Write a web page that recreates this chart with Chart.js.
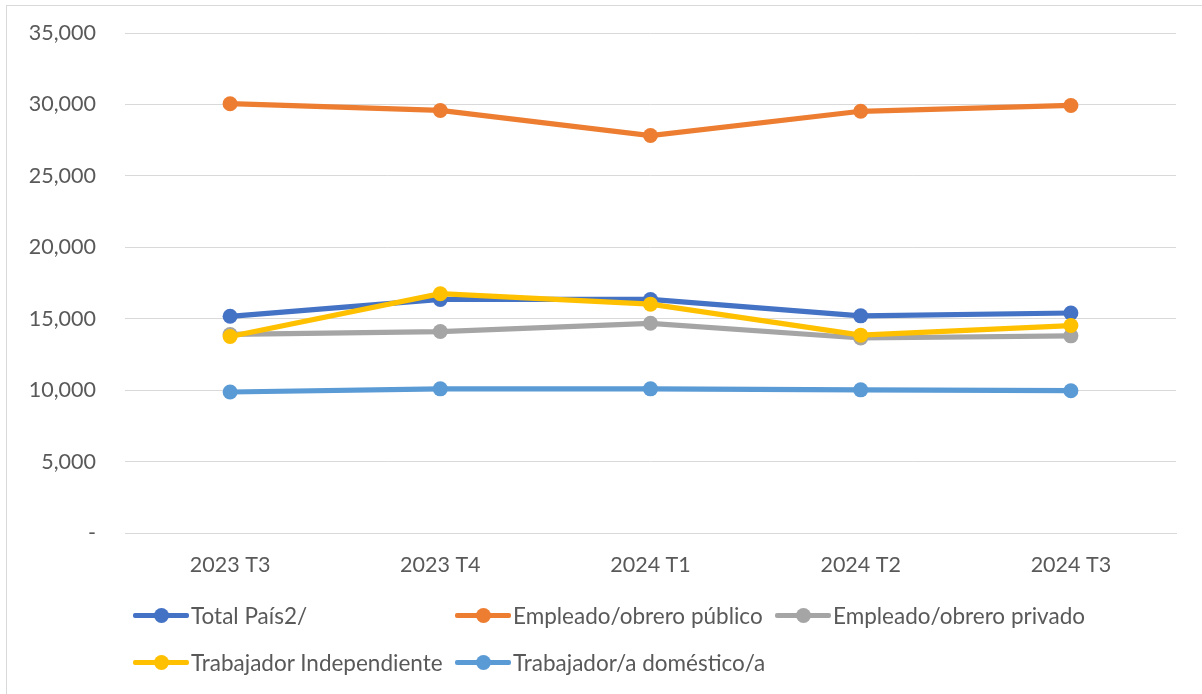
<!DOCTYPE html>
<html lang="es">
<head>
  <meta charset="UTF-8">
  <title>Ingreso promedio por categoría ocupacional</title>
  <script src="https://cdn.jsdelivr.net/npm/chart.js"></script>
  <style>
    html, body { margin: 0; padding: 0; background: #fff; }
    #wrap { position: relative; width: 1202px; height: 694px; overflow: hidden; }
    #frame {
      position: absolute; left: 6px; top: 5px; width: 1220px; height: 720px;
      border: 1px solid #d9d9d9; pointer-events: none;
    }
    canvas { position: absolute; left: 0; top: 0; }
    #legend {
      position: absolute; left: 133px; top: 603px; width: 1040px;
      display: grid; grid-template-columns: 322px 320px 360px; row-gap: 23px;
      font-family: Lato, "Open Sans", sans-serif; font-size: 22.5px; color: #595959;
    }
    .item { display: flex; align-items: center; height: 24px; white-space: nowrap; }
    .swatch { position: relative; width: 56px; height: 24px; margin-right: 2px; }
    .swatch .ln { position: absolute; left: 0; right: 0; top: 9.5px; height: 5px; border-radius: 2px; }
    .swatch .dot { position: absolute; left: 21px; top: 4.5px; width: 15px; height: 15px; border-radius: 50%; }
  </style>
</head>
<body>
  <div id="wrap">
    <canvas id="chart" width="1202" height="694"></canvas>
    <div id="frame"></div>
    <div id="legend"></div>
  </div>

  <script>
    const periodos = ['2023 T3', '2023 T4', '2024 T1', '2024 T2', '2024 T3'];

    const totalPais = [15170, 16350, 16350, 15200, 15400];
    const empleadoPublico = [30050, 29580, 27820, 29520, 29930];
    const empleadoPrivado = [13900, 14100, 14680, 13650, 13800];
    const trabajadorIndependiente = [13760, 16750, 16020, 13850, 14520];
    const trabajadorDomestico = [9870, 10090, 10090, 10020, 9960];

    const series = [
      { label: 'Total País2/', data: totalPais, color: '#4472C4' },
      { label: 'Empleado/obrero público', data: empleadoPublico, color: '#ED7D31' },
      { label: 'Empleado/obrero privado', data: empleadoPrivado, color: '#A5A5A5' },
      { label: 'Trabajador Independiente', data: trabajadorIndependiente, color: '#FFC000' },
      { label: 'Trabajador/a doméstico/a', data: trabajadorDomestico, color: '#5B9BD5' },
    ];

    const font = { family: 'Lato, "Open Sans", sans-serif', size: 21.5 };

    const chart = new Chart(document.getElementById('chart'), {
      type: 'line',
      data: {
        labels: periodos,
        // later series are painted on top of earlier ones
        datasets: series.map((s, i) => ({
          label: s.label,
          data: s.data,
          borderColor: s.color,
          backgroundColor: s.color,
          borderWidth: 5.2,
          pointRadius: 7.5,
          pointHoverRadius: 7.5,
          pointBorderWidth: 0,
          tension: 0,
          order: series.length - i,
        })),
      },
      options: {
        responsive: false,
        animation: false,
        layout: { padding: { top: 33, right: 26, bottom: 111, left: 0 } },
        plugins: { legend: { display: false }, tooltip: { enabled: false } },
        scales: {
          x: {
            offset: true,
            grid: { display: false, drawTicks: false },
            border: { display: true, color: '#d9d9d9', width: 1 },
            ticks: { color: '#595959', font, padding: 19 },
            afterFit: (scale) => { scale.height = 50; },
          },
          y: {
            min: 0,
            max: 35000,
            grid: { color: '#d9d9d9', lineWidth: 1, drawTicks: false },
            border: { display: false },
            ticks: {
              stepSize: 5000,
              color: '#595959',
              font,
              padding: 29,
              callback: (v) => v === 0 ? '-' : v.toLocaleString('en-US'),
            },
            afterFit: (scale) => {
              scale.width = 125;
              // the fixed layout padding already leaves room for the end labels
              scale.paddingTop = 0;
              scale.paddingBottom = 0;
            },
          },
        },
      },
    });

    // legend laid out in fixed columns, built from the chart's datasets
    const legend = document.getElementById('legend');
    chart.data.datasets.forEach((ds) => {
      const item = document.createElement('div');
      item.className = 'item';
      item.innerHTML =
        '<span class="swatch"><span class="ln" style="background:' + ds.borderColor + '"></span>' +
        '<span class="dot" style="background:' + ds.borderColor + '"></span></span>' +
        '<span>' + ds.label + '</span>';
      legend.appendChild(item);
    });
  </script>
</body>
</html>
